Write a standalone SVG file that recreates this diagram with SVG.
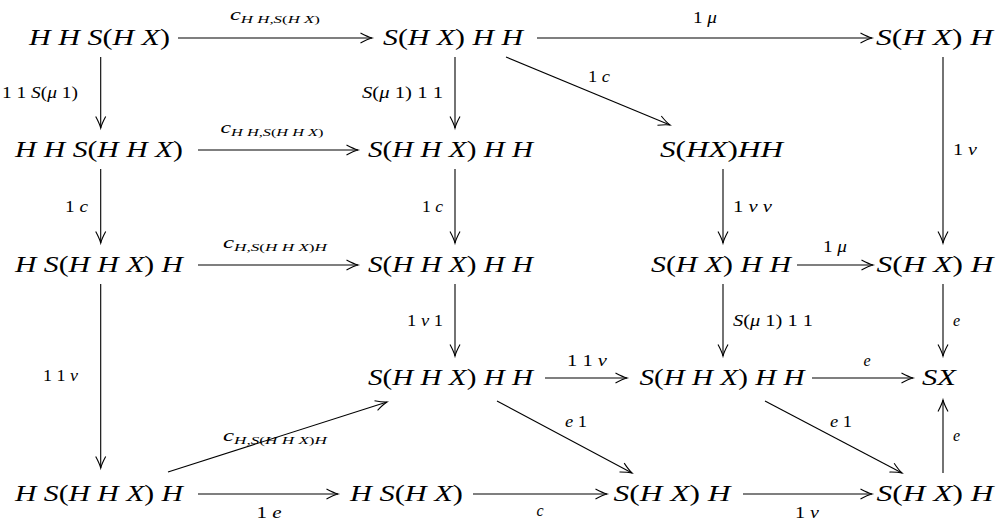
<svg xmlns="http://www.w3.org/2000/svg" width="1007" height="524" viewBox="0 0 1007 524">
  <style>
    text { font-family: "Liberation Serif", "Times New Roman", serif; fill: #000; }
    .node { font-size: 23px; font-style: italic; text-anchor: middle; }
    .lbl { font-size: 16px; font-style: italic; }
    .mid { text-anchor: middle; }
    .end { text-anchor: end; }
    .start { text-anchor: start; }
    .up { font-style: normal; }
    .sub { font-size: 11px; }
    .arr line { stroke: #000; stroke-width: 1.1; fill: none; marker-end: url(#ah); }
  </style>
  <defs>
    <marker id="ah" markerUnits="userSpaceOnUse" markerWidth="16" markerHeight="14" viewBox="-13 -7 16 14" refX="0" refY="0" orient="auto" overflow="visible">
      <path d="M-11.5,-5 Q-4.5,-1.2 0,0 Q-4.5,1.2 -11.5,5" fill="none" stroke="#000" stroke-width="1.1"/>
    </marker>
  </defs>

  <!-- objects -->
  <g id="n11"><text class="node" x="99.5" y="44.5" textLength="141" lengthAdjust="spacingAndGlyphs">H H S<tspan class="up">(</tspan>H X<tspan class="up">)</tspan></text></g>
  <g id="n12"><text class="node" x="453" y="44.5" textLength="140" lengthAdjust="spacingAndGlyphs">S<tspan class="up">(</tspan>H X<tspan class="up">)</tspan> H H</text></g>
  <g id="n14"><text class="node" x="934.5" y="44.5" textLength="117" lengthAdjust="spacingAndGlyphs">S<tspan class="up">(</tspan>H X<tspan class="up">)</tspan> H</text></g>

  <g id="n21"><text class="node" x="99" y="156.5" textLength="168" lengthAdjust="spacingAndGlyphs">H H S<tspan class="up">(</tspan>H H X<tspan class="up">)</tspan></text></g>
  <g id="n22"><text class="node" x="450.5" y="156.5" textLength="165" lengthAdjust="spacingAndGlyphs">S<tspan class="up">(</tspan>H H X<tspan class="up">)</tspan> H H</text></g>
  <g id="n23"><text class="node" x="721.5" y="156.5" textLength="123" lengthAdjust="spacingAndGlyphs">S<tspan class="up">(</tspan>HX<tspan class="up">)</tspan>HH</text></g>

  <g id="n31"><text class="node" x="99" y="271.5" textLength="168" lengthAdjust="spacingAndGlyphs">H S<tspan class="up">(</tspan>H H X<tspan class="up">)</tspan> H</text></g>
  <g id="n32"><text class="node" x="450.5" y="271.5" textLength="165" lengthAdjust="spacingAndGlyphs">S<tspan class="up">(</tspan>H H X<tspan class="up">)</tspan> H H</text></g>
  <g id="n33"><text class="node" x="721" y="271.5" textLength="140" lengthAdjust="spacingAndGlyphs">S<tspan class="up">(</tspan>H X<tspan class="up">)</tspan> H H</text></g>
  <g id="n34"><text class="node" x="935" y="271.5" textLength="117" lengthAdjust="spacingAndGlyphs">S<tspan class="up">(</tspan>H X<tspan class="up">)</tspan> H</text></g>

  <g id="n42"><text class="node" x="450.5" y="384.5" textLength="165" lengthAdjust="spacingAndGlyphs">S<tspan class="up">(</tspan>H H X<tspan class="up">)</tspan> H H</text></g>
  <g id="n43"><text class="node" x="722" y="384.5" textLength="165" lengthAdjust="spacingAndGlyphs">S<tspan class="up">(</tspan>H H X<tspan class="up">)</tspan> H H</text></g>
  <g id="n44"><text class="node" x="939" y="384.5" textLength="34" lengthAdjust="spacingAndGlyphs">SX</text></g>

  <g id="n51"><text class="node" x="99" y="500.5" textLength="168" lengthAdjust="spacingAndGlyphs">H S<tspan class="up">(</tspan>H H X<tspan class="up">)</tspan> H</text></g>
  <g id="n52"><text class="node" x="406.5" y="500.5" textLength="113" lengthAdjust="spacingAndGlyphs">H S<tspan class="up">(</tspan>H X<tspan class="up">)</tspan></text></g>
  <g id="n53"><text class="node" x="672" y="500.5" textLength="117" lengthAdjust="spacingAndGlyphs">S<tspan class="up">(</tspan>H X<tspan class="up">)</tspan> H</text></g>
  <g id="n54"><text class="node" x="935" y="500.5" textLength="117" lengthAdjust="spacingAndGlyphs">S<tspan class="up">(</tspan>H X<tspan class="up">)</tspan> H</text></g>

  <!-- morphisms -->
  <g id="connectors" class="arr">
    <line x1="178" y1="38" x2="372" y2="38"/>
    <line x1="537" y1="38" x2="872" y2="38"/>
    <line x1="198" y1="150" x2="358" y2="150"/>
    <line x1="198" y1="265" x2="358" y2="265"/>
    <line x1="797" y1="265" x2="873" y2="265"/>
    <line x1="545" y1="378" x2="627" y2="378"/>
    <line x1="812" y1="378" x2="913" y2="378"/>
    <line x1="198" y1="494" x2="338" y2="494"/>
    <line x1="473" y1="494" x2="607" y2="494"/>
    <line x1="743" y1="494" x2="872" y2="494"/>

    <line x1="100.7" y1="57" x2="100.7" y2="128"/>
    <line x1="455" y1="57" x2="455" y2="128"/>
    <line x1="943" y1="57" x2="943" y2="243"/>
    <line x1="100.7" y1="169" x2="100.7" y2="243"/>
    <line x1="455" y1="169" x2="455" y2="243"/>
    <line x1="723" y1="169" x2="723" y2="243"/>
    <line x1="100.7" y1="284" x2="100.7" y2="468"/>
    <line x1="455" y1="284" x2="455" y2="356"/>
    <line x1="723" y1="284" x2="723" y2="356"/>
    <line x1="943" y1="284" x2="943" y2="356"/>
    <line x1="943" y1="473" x2="943" y2="400"/>

    <line x1="506" y1="57" x2="670" y2="125"/>
    <line x1="168" y1="472" x2="387" y2="402"/>
    <line x1="497" y1="401" x2="632" y2="473"/>
    <line x1="765" y1="401" x2="902" y2="473"/>
  </g>

  <!-- morphism labels -->
  <g id="labels">
    <text class="lbl mid" x="275" y="20" textLength="90" lengthAdjust="spacingAndGlyphs">c<tspan class="sub" dy="3">H H,S<tspan class="up">(</tspan>H X<tspan class="up">)</tspan></tspan></text>
    <text class="lbl mid" x="705" y="23" textLength="24" lengthAdjust="spacingAndGlyphs"><tspan class="up">1</tspan> μ</text>
    <text class="lbl mid" x="599" y="82" textLength="22" lengthAdjust="spacingAndGlyphs"><tspan class="up">1</tspan> c</text>
    <text class="lbl end" x="78" y="98" textLength="76" lengthAdjust="spacingAndGlyphs"><tspan class="up">1 1</tspan> S<tspan class="up">(</tspan>μ <tspan class="up">1)</tspan></text>
    <text class="lbl end" x="443" y="98" textLength="81" lengthAdjust="spacingAndGlyphs">S<tspan class="up">(</tspan>μ <tspan class="up">1) 1 1</tspan></text>
    <text class="lbl start" x="953" y="155" textLength="24" lengthAdjust="spacingAndGlyphs"><tspan class="up">1</tspan> ν</text>

    <text class="lbl mid" x="272" y="133" textLength="103" lengthAdjust="spacingAndGlyphs">c<tspan class="sub" dy="3">H H,S<tspan class="up">(</tspan>H H X<tspan class="up">)</tspan></tspan></text>
    <text class="lbl end" x="88" y="212" textLength="23" lengthAdjust="spacingAndGlyphs"><tspan class="up">1</tspan> c</text>
    <text class="lbl end" x="443" y="212" textLength="21" lengthAdjust="spacingAndGlyphs"><tspan class="up">1</tspan> c</text>
    <text class="lbl start" x="733" y="212" textLength="39" lengthAdjust="spacingAndGlyphs"><tspan class="up">1</tspan> ν ν</text>

    <text class="lbl mid" x="275" y="248" textLength="104" lengthAdjust="spacingAndGlyphs">c<tspan class="sub" dy="3">H,S<tspan class="up">(</tspan>H H X<tspan class="up">)</tspan>H</tspan></text>
    <text class="lbl mid" x="835" y="252" textLength="24" lengthAdjust="spacingAndGlyphs"><tspan class="up">1</tspan> μ</text>

    <text class="lbl end" x="78" y="381" textLength="35" lengthAdjust="spacingAndGlyphs"><tspan class="up">1 1</tspan> ν</text>
    <text class="lbl end" x="443" y="326" textLength="36" lengthAdjust="spacingAndGlyphs"><tspan class="up">1</tspan> ν <tspan class="up">1</tspan></text>
    <text class="lbl start" x="733" y="326" textLength="80" lengthAdjust="spacingAndGlyphs">S<tspan class="up">(</tspan>μ <tspan class="up">1) 1 1</tspan></text>
    <text class="lbl start" x="953" y="326">e</text>

    <text class="lbl mid" x="587" y="366" textLength="40" lengthAdjust="spacingAndGlyphs"><tspan class="up">1 1</tspan> ν</text>
    <text class="lbl mid" x="867" y="366">e</text>

    <text class="lbl mid" x="275" y="441" textLength="104" lengthAdjust="spacingAndGlyphs">c<tspan class="sub" dy="3">H,S<tspan class="up">(</tspan>H H X<tspan class="up">)</tspan>H</tspan></text>
    <text class="lbl mid" x="576" y="427" textLength="22" lengthAdjust="spacingAndGlyphs">e <tspan class="up">1</tspan></text>
    <text class="lbl mid" x="841" y="427" textLength="22" lengthAdjust="spacingAndGlyphs">e <tspan class="up">1</tspan></text>
    <text class="lbl start" x="953" y="441">e</text>

    <text class="lbl mid" x="269" y="518" textLength="25" lengthAdjust="spacingAndGlyphs"><tspan class="up">1</tspan> e</text>
    <text class="lbl mid" x="540" y="516">c</text>
    <text class="lbl mid" x="807" y="518" textLength="24" lengthAdjust="spacingAndGlyphs"><tspan class="up">1</tspan> ν</text>
  </g>
</svg>
